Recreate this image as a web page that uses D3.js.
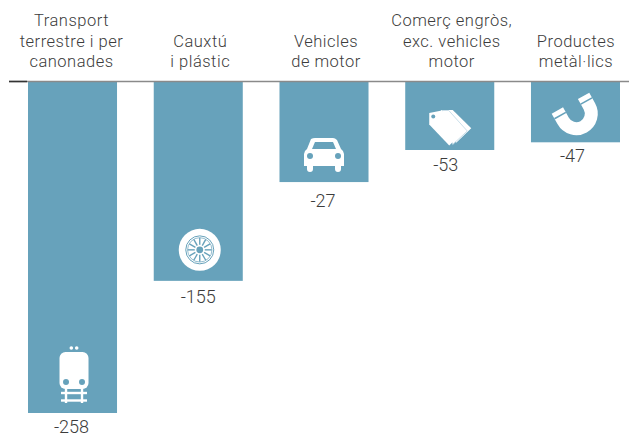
<!DOCTYPE html>
<html>
<head>
<meta charset="utf-8">
<script src="https://cdn.jsdelivr.net/npm/d3@7"></script>
<style>
  html, body { margin: 0; padding: 0; background: #fff; }
  text { font-family: Roboto, sans-serif; font-weight: 300; fill: #3c3c3c; }
</style>
</head>
<body>
<div id="chart"></div>
<script>
var categories = [
  ["Transport", "terrestre i per", "canonades"],
  ["Cauxtú", "i plástic"],
  ["Vehicles", "de motor"],
  ["Comerç engròs,", "exc. vehicles", "motor"],
  ["Productes", "metàl·lics"]
];
// bar lengths as drawn; the third bar is longer than its printed label
var barValues = [-258, -155, -78, -53, -47];
var valueLabels = ["-258", "-155", "-27", "-53", "-47"];
var icons = ["train", "wheel", "car", "tags", "magnet"];

var width = 629, height = 437;
var blue = "#67a2bb";
// small nudges, the labels in the original are not quite centred
var labelGaps = [19.5, 22, 24.5, 21, 20];
var labelShift = [-1, 0, -1, -4, -3];
var nameShift = [-1, 2, 2, 2, 0.5];

var svg = d3.select("#chart").append("svg")
  .attr("width", width)
  .attr("height", height)
  .style("display", "block");

var x = d3.scaleBand()
  .domain(d3.range(categories.length))
  .range([28, 620])
  .paddingInner(0.292)
  .paddingOuter(0);

var y = d3.scaleLinear()
  .domain([0, -258])
  .range([82, 413]);

var groups = svg.selectAll("g.bar")
  .data(barValues)
  .enter()
  .append("g")
  .attr("class", "bar");

groups.append("rect")
  .attr("x", function(d, i) { return x(i); })
  .attr("y", y(0))
  .attr("width", x.bandwidth())
  .attr("height", function(d) { return y(d) - y(0); })
  .style("fill", blue);

// baseline line across the top of the bars
svg.append("line")
  .attr("x1", 9).attr("x2", width)
  .attr("y1", 81.5).attr("y2", 81.5)
  .style("stroke", "#8a8a8a")
  .style("stroke-width", 1.5);
svg.append("line")
  .attr("x1", 9).attr("x2", 27)
  .attr("y1", 81.5).attr("y2", 81.5)
  .style("stroke", "#333")
  .style("stroke-width", 1.5);

// category names, bottom aligned above the line
groups.append("text")
  .attr("text-anchor", "middle")
  .style("font-size", "16.5px")
  .style("letter-spacing", "0.5px")
  .each(function(d, i) {
    var lines = categories[i];
    d3.select(this).selectAll("tspan")
      .data(lines)
      .enter()
      .append("tspan")
      .attr("x", x(i) + x.bandwidth() / 2 + nameShift[i])
      .attr("y", function(l, j) { return 67 - (lines.length - 1 - j) * 20.3; })
      .text(function(l) { return l; });
  });

groups.append("text")
  .attr("text-anchor", "middle")
  .attr("x", function(d, i) { return x(i) + x.bandwidth() / 2 + labelShift[i]; })
  .attr("y", function(d, i) { return y(d) + labelGaps[i]; })
  .style("font-size", "18px")
  .text(function(d, i) { return valueLabels[i]; });

// icons are drawn in local coordinates around the bar centre
var drawIcon = {
  train: function(g) {
    g.attr("transform", "translate(1.5,-41)");
    g.append("circle").attr("cx", -2.7).attr("cy", -24).attr("r", 1.8).style("fill", "#fff");
    g.append("circle").attr("cx", 2.7).attr("cy", -24).attr("r", 1.8).style("fill", "#fff");
    g.append("rect").attr("x", -14.5).attr("y", -20).attr("width", 29).attr("height", 37).attr("rx", 6).style("fill", "#fff");
    g.append("circle").attr("cx", -8).attr("cy", 10).attr("r", 3).style("fill", blue);
    g.append("circle").attr("cx", 8).attr("cy", 10).attr("r", 3).style("fill", blue);
    [-8, 8].forEach(function(v) {
      g.append("rect").attr("x", v - 1.2).attr("y", 16).attr("width", 2.4).attr("height", 15).style("fill", "#fff");
    });
    [21, 28.5].forEach(function(v) {
      g.append("rect").attr("x", -13).attr("y", v - 1.2).attr("width", 26).attr("height", 2.4).style("fill", "#fff");
    });
  },
  wheel: function(g) {
    g.attr("transform", "translate(1.5,-31)");
    g.append("circle").attr("r", 21).style("fill", "#fff");
    g.append("circle").attr("r", 14).style("fill", "none").style("stroke", blue).style("stroke-width", 1);
    g.append("circle").attr("r", 12.2).style("fill", "none").style("stroke", blue).style("stroke-width", 0.7);
    g.append("circle").attr("r", 3.4).style("fill", blue);
    d3.range(12).forEach(function(k) {
      var a = k * Math.PI / 6;
      g.append("line")
        .attr("x1", 5 * Math.cos(a)).attr("y1", 5 * Math.sin(a))
        .attr("x2", 12 * Math.cos(a)).attr("y2", 12 * Math.sin(a))
        .style("stroke", blue)
        .style("stroke-width", 1.4);
    });
  },
  car: function(g) {
    g.attr("transform", "translate(0,-26)");
    g.append("path")
      .attr("d", "M-13,-17 Q-11,-18 -9,-18 L9,-18 Q11,-18 13,-16 L17,-7 Q20,-5 20,-2 L20,10 L17,10 L17,13 Q17,16 14,16 Q11,16 11,13 L11,10 L-11,10 L-11,13 Q-11,16 -14,16 Q-17,16 -17,13 L-17,10 L-20,10 L-20,-2 Q-20,-5 -17,-7 Z")
      .style("fill", "#fff");
    g.append("path").attr("d", "M-9,-14 L9,-14 L12,-7 L-12,-7 Z").style("fill", blue);
    g.append("circle").attr("cx", -14).attr("cy", 0).attr("r", 3).style("fill", blue);
    g.append("circle").attr("cx", 14).attr("cy", 0).attr("r", 3).style("fill", blue);
  },
  tags: function(g) {
    g.attr("transform", "translate(0,-16)");
    g.append("path")
      .attr("d", "M-9,-24 L3,-24 L21.5,-5.7 L6.5,8.7 Z")
      .style("fill", "#fff");
    g.append("path")
      .attr("d", "M-8,-23.5 L-1,-23.5 L17.5,-3 L3,10.5 Z")
      .style("fill", "#fff")
      .style("stroke", "#bcd7e4")
      .style("stroke-width", 0.8);
    g.append("path")
      .attr("d", "M-20.5,-21 L-8,-23.5 L13.5,-2.5 L-0.5,11.5 L-20.5,-9.5 Z")
      .style("fill", "#fff");
    g.append("circle").attr("cx", -16.5).attr("cy", -17.5).attr("r", 2).style("fill", blue);
  },
  magnet: function(g) {
    g.attr("transform", "translate(0.8,-28.6) rotate(-29)");
    g.append("path")
      .attr("d", "M-15,-12 L-15,0 A15,15 0 0 0 15,0 L15,-12")
      .style("fill", "none")
      .style("stroke", "#fff")
      .style("stroke-width", 13);
    [-15, 15].forEach(function(v) {
      g.append("rect").attr("x", v - 6.5).attr("y", -7).attr("width", 13).attr("height", 1.6).style("fill", blue);
    });
  }
};

groups.each(function(d, i) {
  var holder = d3.select(this).append("g")
    .attr("transform", "translate(" + (x(i) + x.bandwidth() / 2) + "," + y(d) + ")");
  drawIcon[icons[i]](holder.append("g"));
});
</script>
</body>
</html>
